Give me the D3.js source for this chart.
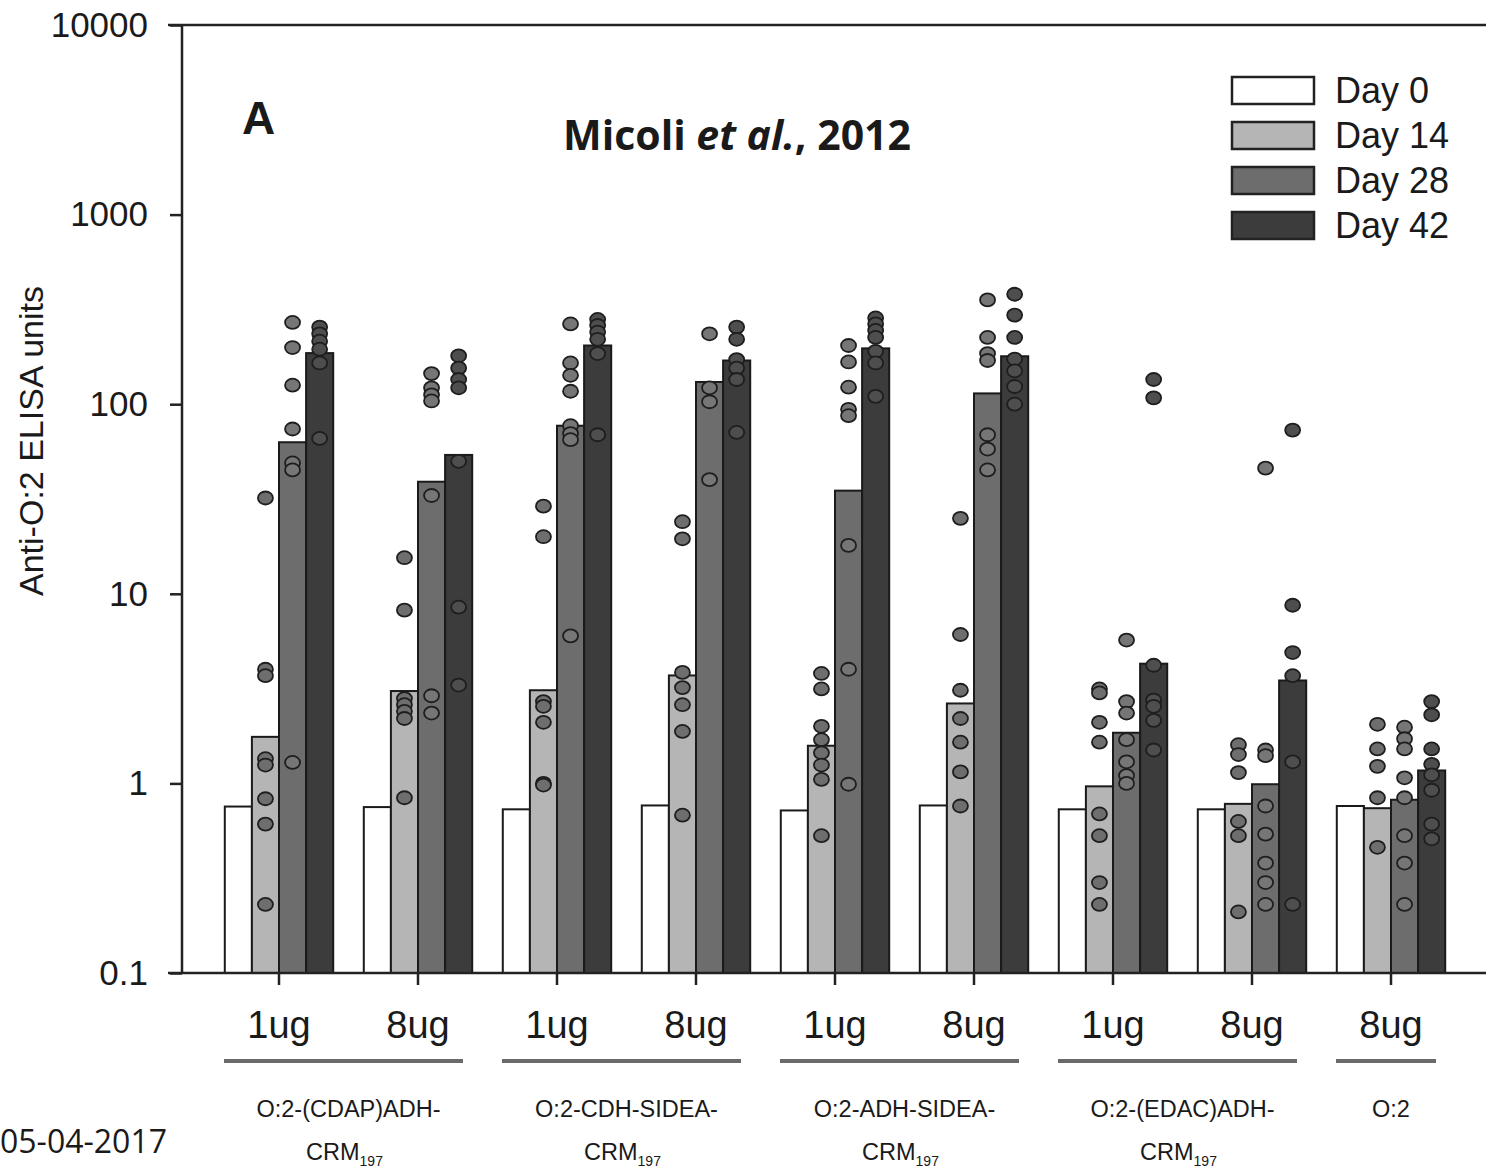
<!DOCTYPE html>
<html>
<head>
<meta charset="utf-8">
<script src="https://cdn.jsdelivr.net/npm/d3@7"></script>
<style>
  html, body { margin: 0; padding: 0; background: #fff; }
  svg { display: block; }
  text { font-family: "Liberation Sans", Arial, sans-serif; fill: #1a1a1a; }
</style>
</head>
<body>
<svg id="chart" width="1486" height="1168"></svg>
<script>
// groups along the x axis (dose per group)
const groups = ["g1", "g2", "g3", "g4", "g5", "g6", "g7", "g8", "g9"]
const doses = ["1ug", "8ug", "1ug", "8ug", "1ug", "8ug", "1ug", "8ug", "8ug"]
const days = ["Day 0", "Day 14", "Day 28", "Day 42"]

// conjugates (under the dose labels), each spanning some groups
const conjLine1 = ["O:2-(CDAP)ADH-", "O:2-CDH-SIDEA-", "O:2-ADH-SIDEA-", "O:2-(EDAC)ADH-", "O:2"]
const conjLine2 = ["CRM", "CRM", "CRM", "CRM", ""]
const conjSub = ["197", "197", "197", "197", ""]
const conjFirst = [0, 2, 4, 6, 8]
const conjLast = [1, 3, 5, 7, 8]

// geometric mean bars
const day0 = [0.755, 0.75, 0.73, 0.765, 0.72, 0.765, 0.73, 0.73, 0.76]
const day14 = [1.76, 3.07, 3.1, 3.71, 1.58, 2.64, 0.965, 0.78, 0.74]
const day28 = [63, 39, 77, 131, 35, 114, 1.85, 0.99, 0.82]
const day42 = [186, 54, 204, 170, 197, 179, 4.28, 3.49, 1.17]

// individual mice
const dots14 = [
  [32, 4.0, 3.7, 1.35, 1.25, 0.83, 0.61, 0.23],
  [15.5, 8.2, 2.8, 2.6, 2.4, 2.2, 0.84],
  [29, 20, 2.7, 2.55, 2.1, 1.0, 0.98],
  [24, 19.5, 3.85, 3.2, 2.6, 1.88, 0.68],
  [3.8, 3.15, 2.0, 1.7, 1.45, 1.25, 1.05, 0.53],
  [25, 6.1, 3.1, 2.2, 1.65, 1.15, 0.76],
  [3.15, 3.0, 2.1, 1.65, 0.69, 0.53, 0.3, 0.23],
  [1.6, 1.42, 1.14, 0.63, 0.53, 0.21],
  [2.05, 1.52, 1.23, 0.84, 0.46]
]
const dots28 = [
  [270, 199, 126, 74, 49, 45, 1.29],
  [145, 122, 112, 104, 33, 2.9, 2.35],
  [265, 165, 142, 117, 77, 70, 65, 6.0],
  [235, 122, 103, 40],
  [204, 167, 123, 94, 87, 18, 4.0, 0.99],
  [355, 225, 185, 170, 69, 58, 45],
  [5.7, 2.7, 2.35, 1.7, 1.3, 1.1, 1.0],
  [46, 1.5, 1.4, 0.76, 0.54, 0.38, 0.3, 0.23],
  [1.98, 1.72, 1.52, 1.07, 0.84, 0.53, 0.38, 0.23]
]
const dots42 = [
  [255, 235, 215, 195, 165, 66],
  [180, 155, 135, 122, 50, 8.5, 3.3],
  [280, 260, 240, 220, 185, 69],
  [255, 220, 172, 155, 135, 71],
  [285, 265, 245, 225, 190, 165, 110],
  [380, 295, 225, 173, 150, 124, 100],
  [135, 108, 4.2, 2.75, 2.55, 2.15, 1.5],
  [73, 8.7, 4.9, 3.7, 1.3, 0.23],
  [2.7, 2.3, 1.52, 1.26, 1.11, 0.92, 0.61, 0.51]
]

const yTicks = [0.1, 1, 10, 100, 1000, 10000]
const yTickLabels = ["0.1", "1", "10", "100", "1000", "10000"]

const barColors = ["#ffffff", "#b5b5b5", "#6d6d6d", "#3c3c3c"]
const dotColors = [null, "#6e6e6e", "#767676", "#4e4e4e"]

const svg = d3.select('#chart')

const y = d3.scaleLog().domain([0.1, 10000]).range([973, 25])
const x = d3.scaleBand().domain(groups).range([209.5, 1460.5])
  .paddingInner(0.22).paddingOuter(0.11)
const xDay = d3.scaleBand().domain(days).range([0, x.bandwidth()])

const means = [day0, day14, day28, day42]
const dots = [null, dots14, dots28, dots42]

// bars
const barData = []
groups.forEach((g, i) => {
  days.forEach((d, j) => barData.push({ g, d, j, v: means[j][i] }))
})
svg.append('g').selectAll('rect')
  .data(barData)
  .enter().append('rect')
  .attr('x', d => x(d.g) + xDay(d.d))
  .attr('y', d => y(d.v))
  .attr('width', xDay.bandwidth())
  .attr('height', d => y(0.1) - y(d.v))
  .attr('fill', d => barColors[d.j])
  .attr('stroke', '#1a1a1a')
  .attr('stroke-width', 2)

// points
const dotData = []
groups.forEach((g, i) => {
  for (let j = 1; j < 4; j++) {
    dots[j][i].forEach(v => dotData.push({ g, d: days[j], j, v }))
  }
})
svg.append('g').selectAll('ellipse')
  .data(dotData)
  .enter().append('ellipse')
  .attr('cx', d => x(d.g) + xDay(d.d) + xDay.bandwidth() / 2)
  .attr('cy', d => y(d.v))
  .attr('rx', 7.5)
  .attr('ry', 6.5)
  .attr('fill', d => dotColors[d.j])
  .attr('stroke', '#1e1e1e')
  .attr('stroke-width', 1.8)

// y axis
const yAxis = svg.append('g')
  .attr('transform', 'translate(182,0)')
  .call(d3.axisLeft(y).tickValues(yTicks).tickFormat((d, i) => yTickLabels[i])
    .tickSize(12).tickPadding(22))
yAxis.select('.domain').remove()
yAxis.selectAll('line').attr('stroke', '#222').attr('stroke-width', 2.5)
yAxis.selectAll('text').style('font-size', '35px').attr('fill', '#1a1a1a')
  .attr('font-family', '"Liberation Sans", Arial, sans-serif')

// x axis
const xAxis = svg.append('g')
  .attr('transform', 'translate(0,973)')
  .call(d3.axisBottom(x).tickFormat((d, i) => doses[i]).tickSize(12).tickPadding(26))
xAxis.select('.domain').remove()
xAxis.selectAll('line').attr('stroke', '#222').attr('stroke-width', 2.5)
xAxis.selectAll('text').style('font-size', '38px').attr('fill', '#1a1a1a')
  .attr('font-family', '"Liberation Sans", Arial, sans-serif')

// frame lines
svg.append('line').attr('x1', 182).attr('x2', 182).attr('y1', 25).attr('y2', 973)
  .attr('stroke', '#222').attr('stroke-width', 2.5)
svg.append('line').attr('x1', 168).attr('x2', 1486).attr('y1', 973).attr('y2', 973)
  .attr('stroke', '#222').attr('stroke-width', 2.5)
svg.append('line').attr('x1', 168).attr('x2', 1486).attr('y1', 25).attr('y2', 25)
  .attr('stroke', '#222').attr('stroke-width', 2.5)

// y label
svg.append('text')
  .attr('transform', 'translate(43,441) rotate(-90)')
  .attr('text-anchor', 'middle')
  .style('font-size', '34px')
  .text('Anti-O:2 ELISA units')

// conjugate underlines + labels
const conj = conjLine1.map((t, k) => ({
  t, l2: conjLine2[k], sub: conjSub[k],
  x0: x(groups[conjFirst[k]]) + x.bandwidth() / 2,
  x1: x(groups[conjLast[k]]) + x.bandwidth() / 2
}))
const cg = svg.append('g')
cg.selectAll('line').data(conj).enter().append('line')
  .attr('x1', d => d.x0 - 55).attr('x2', d => d.x1 + 45)
  .attr('y1', 1061).attr('y2', 1061)
  .attr('stroke', '#6a6a6a').attr('stroke-width', 4)
cg.selectAll('text.l1').data(conj).enter().append('text')
  .attr('class', 'l1')
  .attr('x', d => (d.x0 + d.x1) / 2)
  .attr('y', 1117)
  .attr('text-anchor', 'middle')
  .style('font-size', '23.5px')
  .text(d => d.t)
const l2 = cg.selectAll('text.l2').data(conj.filter(d => d.l2)).enter().append('text')
  .attr('class', 'l2')
  .attr('x', d => (d.x0 + d.x1) / 2 - 4)
  .attr('y', 1160)
  .attr('text-anchor', 'middle')
  .style('font-size', '23.5px')
l2.append('tspan').text(d => d.l2)
l2.append('tspan').attr('dy', 6).style('font-size', '14px').text(d => d.sub)

// legend
const lg = svg.append('g').attr('transform', 'translate(1232,77)')
const li = lg.selectAll('g').data(days).enter().append('g')
  .attr('transform', (d, i) => `translate(0,${i * 45})`)
li.append('rect').attr('width', 82).attr('height', 27)
  .attr('fill', (d, i) => barColors[i]).attr('stroke', '#222').attr('stroke-width', 2.5)
li.append('text').attr('x', 103).attr('y', 26).style('font-size', '36px').text(d => d)

// panel letter, citation, date
svg.append('text').attr('x', 242).attr('y', 134)
  .style('font-size', '46px').style('font-weight', 'bold').text('A')

const title = svg.append('text').attr('x', 737).attr('y', 150)
  .attr('text-anchor', 'middle')
  .style('font-family', '"Open Sans", sans-serif')
  .style('font-size', '41px').style('font-weight', 'bold').attr('fill', '#000')
title.append('tspan').text('Micoli ')
title.append('tspan').style('font-style', 'italic').text('et al.')
title.append('tspan').text(', 2012')

svg.append('text').attr('x', 0).attr('y', 1153)
  .style('font-family', '"Open Sans", sans-serif')
  .style('font-size', '32px').attr('fill', '#7a7a7a')
  .text('05-04-2017')
</script>
</body>
</html>
